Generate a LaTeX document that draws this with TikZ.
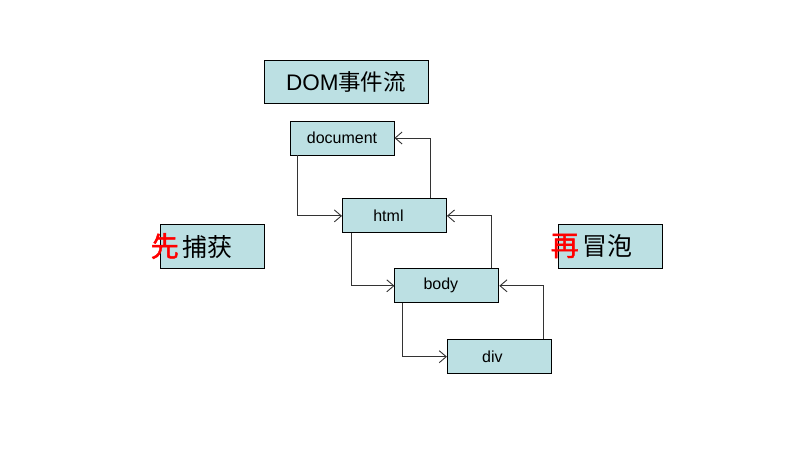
\documentclass[tikz,border=0pt]{standalone}
\usepackage{fontspec}
\setmainfont{Liberation Sans}
\newfontfamily\cjk{Noto Sans CJK SC}
\newfontfamily\cjkbold[FakeBold=1.5]{Noto Sans CJK SC}
\usepackage{tikz}
\usetikzlibrary{arrows.meta,positioning}
\definecolor{cbox}{HTML}{BCE0E3}
\definecolor{cline}{HTML}{333333}
\definecolor{cred}{HTML}{FF0000}

\begin{document}
\begin{tikzpicture}[x=1pt,y=-1pt,
  font=\fontsize{16}{19}\selectfont,
  elem/.style={draw=black,fill=cbox,line width=0.9pt,minimum width=104pt,
               minimum height=34pt,inner sep=0pt,align=center},
  side/.style={draw=black,fill=cbox,line width=0.9pt,minimum width=104pt,
               minimum height=44pt,inner sep=0pt},
  arr/.style={-{Straight Barb[length=7pt,width=12pt]},line width=0.9pt,cline}]
  \useasboundingbox (0,0) rectangle (796,462);
  % title
  \node[side,minimum width=164pt,minimum height=43pt,
        font=\fontsize{22.5}{26}\selectfont] (title) at (346,81.5) {DOM{\cjk 事件流}};
  % element chain
  \node[elem] (doc) at (342,138) {document};
  \node[elem,below=43pt of doc.south east] (html) {\hspace*{-12pt}html};
  \node[elem,below=35pt of html.south east] (body) {\hspace*{-12pt}body};
  \node[elem,below=36pt of body.south east] (div) {\hspace*{-14pt}div};
  % capture (down)
  \draw[arr] ([xshift=8pt]doc.south west) |- (html.west);
  \draw[arr] ([xshift=9pt]html.south west) |- (body.west);
  \draw[arr] ([xshift=8pt]body.south west) |- (div.west);
  % bubble (up)
  \draw[arr] ([xshift=-16pt]html.north east) |- (doc.east);
  \draw[arr] ([xshift=-8pt]body.north east) |- (html.east);
  \draw[arr] ([xshift=-8pt]div.north east) |- (body.east);
  % side labels
  \node[side] (capt) at (212,246) {};
  \node[right,inner sep=0pt,font=\fontsize{25}{28}\selectfont\cjk] (capttxt)
    at ([xshift=-9pt]capt.west) {{\fontsize{28}{30}\selectfont\cjkbold\color{cred}先}\hspace{4pt}捕获};
  \node[side] (bubb) at (610,246) {};
  \node[right,inner sep=0pt,font=\fontsize{25}{28}\selectfont\cjk] (bubbtxt)
    at ([xshift=-7pt]bubb.west) {{\fontsize{28}{30}\selectfont\cjkbold\color{cred}再}\hspace{4pt}冒泡};
\end{tikzpicture}
\end{document}
